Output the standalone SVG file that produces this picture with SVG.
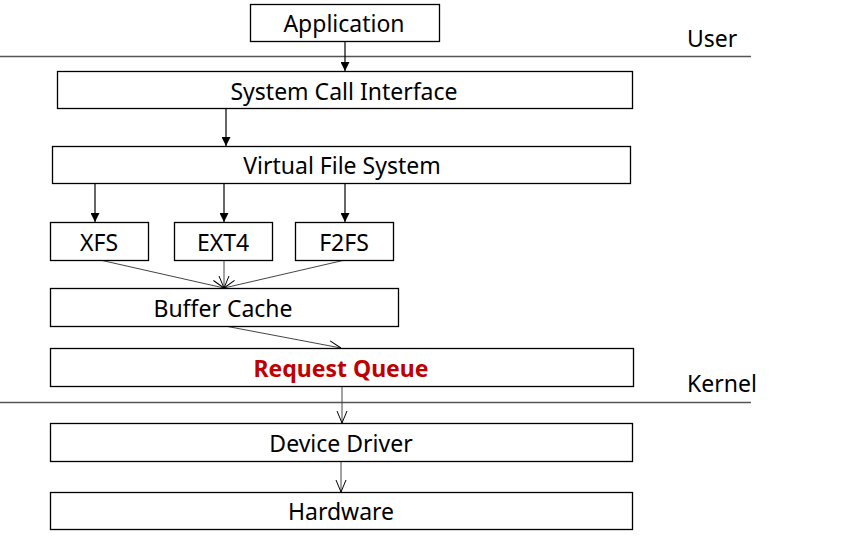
<svg xmlns="http://www.w3.org/2000/svg" width="844" height="540" viewBox="0 0 844 540">
<style>
.box{fill:#fff;stroke:#000;stroke-width:1.3}
.t{font-family:"Noto Sans","Open Sans",sans-serif;font-size:23px;fill:#000;text-anchor:middle;dominant-baseline:central}
.lbl{text-anchor:start}
.sep{stroke:#555;stroke-width:1.3}
.c{stroke:#000;stroke-width:1.2;fill:none}
.c2{stroke:#444;stroke-width:1;fill:none}
</style>
<defs>
<marker id="fa" viewBox="0 0 10 10" refX="10" refY="5" markerWidth="9" markerHeight="9" markerUnits="userSpaceOnUse" orient="auto"><path d="M0,0L10,5L0,10z" fill="#000"/></marker>
<marker id="oa" viewBox="0 0 12 12" refX="12" refY="6" markerWidth="12" markerHeight="12" markerUnits="userSpaceOnUse" orient="auto"><path d="M0,1L12,6L0,11" fill="none" stroke="#000" stroke-width="1"/></marker>
</defs>
<rect width="844" height="540" fill="#fff"/>
<g id="separators">
<line class="sep" x1="0" y1="56.5" x2="751" y2="56.5"/>
<line class="sep" x1="0" y1="402.5" x2="751" y2="402.5"/>
<text class="t lbl" x="687" y="38">User</text>
<text class="t lbl" x="687" y="383">Kernel</text>
</g>
<g id="connectors">
<line class="c" x1="345" y1="41" x2="345" y2="71" marker-end="url(#fa)"/>
<line class="c" x1="226" y1="108" x2="226" y2="146" marker-end="url(#fa)"/>
<line class="c" x1="95" y1="183" x2="95" y2="222" marker-end="url(#fa)"/>
<line class="c" x1="224" y1="183" x2="224" y2="222" marker-end="url(#fa)"/>
<line class="c" x1="345" y1="183" x2="345" y2="222" marker-end="url(#fa)"/>
<line class="c2" x1="100" y1="260" x2="224" y2="288" marker-end="url(#oa)"/>
<line class="c2" x1="224" y1="260" x2="224" y2="288" marker-end="url(#oa)"/>
<line class="c2" x1="345" y1="260" x2="224" y2="288" marker-end="url(#oa)"/>
<line class="c2" x1="225" y1="326" x2="341" y2="348" marker-end="url(#oa)"/>
<line class="c2" x1="342" y1="386" x2="342" y2="423" marker-end="url(#oa)"/>
<line class="c2" x1="341" y1="461" x2="341" y2="492" marker-end="url(#oa)"/>
</g>
<g id="app"><rect class="box" x="250.5" y="4.5" width="189" height="37"/><text class="t" x="344" y="23">Application</text></g>
<g id="sci"><rect class="box" x="57.5" y="71.5" width="575" height="37"/><text class="t" x="344" y="91">System Call Interface</text></g>
<g id="vfs"><rect class="box" x="52.5" y="146.5" width="578" height="37"/><text class="t" x="342" y="165">Virtual File System</text></g>
<g id="xfs"><rect class="box" x="50.5" y="222.5" width="98" height="38"/><text class="t" x="99" y="242">XFS</text></g>
<g id="ext4"><rect class="box" x="174.5" y="222.5" width="98" height="38"/><text class="t" x="223" y="242">EXT4</text></g>
<g id="f2fs"><rect class="box" x="295.5" y="222.5" width="98" height="38"/><text class="t" x="344" y="242">F2FS</text></g>
<g id="buffer"><rect class="box" x="50.5" y="288.5" width="348" height="38"/><text class="t" x="223" y="308">Buffer Cache</text></g>
<g id="rq"><rect class="box" x="50.5" y="348.5" width="583" height="38"/><text class="t" x="341" y="368" style="fill:#C00000;font-weight:bold">Request Queue</text></g>
<g id="dd"><rect class="box" x="50.5" y="423.5" width="582" height="38"/><text class="t" x="341" y="443">Device Driver</text></g>
<g id="hw"><rect class="box" x="50.5" y="492.5" width="582" height="37"/><text class="t" x="341" y="511">Hardware</text></g>
</svg>
